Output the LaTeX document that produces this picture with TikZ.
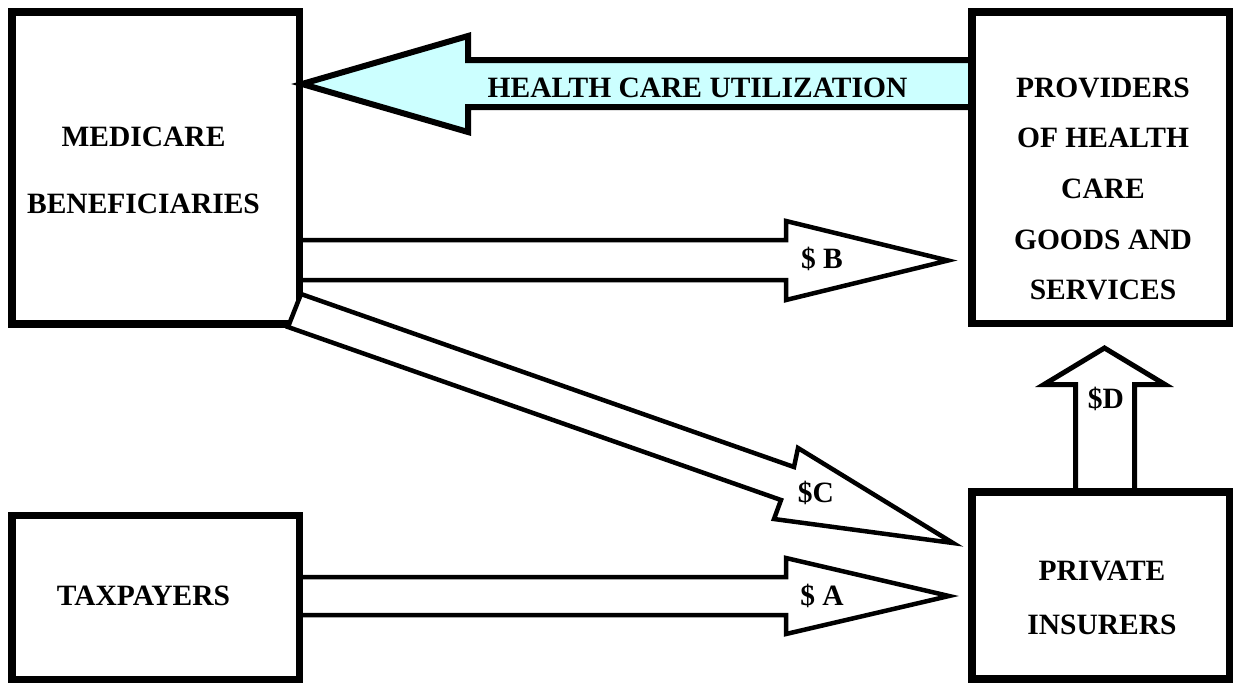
\documentclass[tikz,border=0pt]{standalone}
\usepackage{fontspec}
\setmainfont{Liberation Serif}
\usetikzlibrary{calc}
\definecolor{utilcyan}{RGB}{204,255,255}
\pgfdeclarelayer{bg}
\pgfsetlayers{bg,main}
\begin{document}
\begin{tikzpicture}[x=1pt,y=-1pt,
  boxstyle/.style={draw, line width=7.5pt, inner sep=0pt, outer sep=0pt},
  lbl/.style={font=\bfseries\fontsize{29.5}{35}\selectfont, inner sep=0pt, anchor=base},
  flowarrow/.style={draw, line width=4.5pt, fill=white, line join=miter},
  utilarrow/.style={draw, line width=6pt, fill=utilcyan, line join=miter},
  darrow/.style={draw, line width=5pt, fill=white, line join=miter}]
\useasboundingbox (0,0) rectangle (1234,683);
% boxes
\node[boxstyle, minimum width=287.5pt, minimum height=312pt] (ben) at (155.75,168) {};
\node[boxstyle, minimum width=257.5pt, minimum height=311.5pt] (prov) at (1100.75,167.75) {};
\node[boxstyle, minimum width=287.5pt, minimum height=164pt] (tax) at (155.75,597.5) {};
\node[boxstyle, minimum width=257.5pt, minimum height=187pt] (ins) at (1100.75,585.5) {};
% block arrows behind the boxes
\begin{pgfonlayer}{bg}
\fill[white] (0,0) rectangle (1234,683);
\draw[utilarrow] (prov.west |- 0,60) -- (468,60) -- (468,36) -- (302,84) -- (468,132) -- (468,107) -- (prov.west |- 0,107) -- cycle;
\draw[flowarrow] (ben.east |- 0,240) -- (786,240) -- (786,221) -- (948,260.5) -- (786,300) -- (786,280) -- (ben.east |- 0,280) -- cycle;
\draw[flowarrow] (tax.east |- 0,577) -- (786,577) -- (786,558) -- (949,596) -- (786,634) -- (786,615) -- (tax.east |- 0,615) -- cycle;
\draw[darrow] (1075.5,0 |- ins.north) -- (1075.5,384.5) -- (1044,384.5) -- (1104.5,348) -- (1165,384.5) -- (1134.5,384.5) -- (1134.5,0 |- ins.north) -- cycle;
\end{pgfonlayer}
% diagonal arrow over the corner of the beneficiaries box
\draw[flowarrow] ($(ben.south east)+(1.5,-30)$) -- (794,467) -- (798,448) -- ($(ins.west)+(-19,-42.5)$) -- (774,519) -- (781,500) -- ($(ben.south east)+(-11.5,3)$) -- cycle;
% texts
\node[lbl] (ut) at (697.5,97) {HEALTH CARE UTILIZATION};
\node[lbl] (ben1) at (143.5,146) {MEDICARE};
\node[lbl] (ben2) at (143.5,213) {BENEFICIARIES};
\node[lbl] (prov1) at (1103,97) {PROVIDERS};
\node[lbl] (prov2) at (1103,147.5) {OF HEALTH};
\node[lbl] (prov3) at (1103,198.5) {CARE};
\node[lbl] (prov4) at (1103,249) {GOODS AND};
\node[lbl] (prov5) at (1103,299.5) {SERVICES};
\node[lbl] (tax1) at (143.5,605) {TAXPAYERS};
\node[lbl] (ins1) at (1102,580) {PRIVATE};
\node[lbl] (ins2) at (1102,634) {INSURERS};
\node[lbl] (lb) at (822,268) {\$ B};
\node[lbl] (la) at (822,605) {\$ A};
\node[lbl] (lc) at (816,502) {\$C};
\node[lbl] (ld) at (1106,408) {\$D};
\end{tikzpicture}
\end{document}
